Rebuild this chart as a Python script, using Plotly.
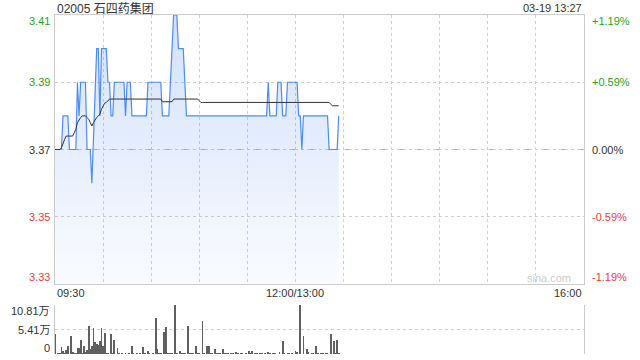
import plotly.graph_objects as go

# ---------------- data ----------------
stock_title = "02005 石四药集团"
stamp_text = "03-19 13:27"
prev_close = 3.37

# minute index from 09:30 (0) ; 12:00/13:00 = 150 ; 16:00 = 330
price = [
    3.37, 3.37, 3.37, 3.37, 3.37, 3.38, 3.38, 3.38, 3.38, 3.37,
    3.37, 3.37, 3.37, 3.37, 3.39, 3.38, 3.39, 3.39, 3.39, 3.39,
    3.37, 3.37, 3.37, 3.36, None, None, 3.40, 3.40, 3.38, 3.40,
    3.40, 3.40, 3.40, 3.39, 3.39, 3.38, 3.38, 3.39, 3.39, 3.39,
    3.39, 3.39, 3.39, 3.39, 3.38, 3.39, 3.39, 3.39, 3.38, 3.38,
    3.38, 3.38, 3.38, 3.38, 3.38, 3.38, 3.38, 3.38, 3.39, 3.39,
    3.39, 3.39, 3.39, 3.39, 3.39, 3.39, 3.39, 3.38, 3.38, 3.38,
    3.38, 3.38, 3.39, None, 3.41, 3.41, 3.41, 3.40, 3.40, 3.40,
    3.40, None, 3.38, 3.38, 3.38, 3.38, 3.38, 3.38, 3.38, 3.38,
    3.38, 3.38, 3.38, 3.38, 3.38, 3.38, 3.38, 3.38, 3.38, 3.38,
    3.38, 3.38, 3.38, 3.38, 3.38, 3.38, 3.38, 3.38, 3.38, 3.38,
    3.38, 3.38, 3.38, 3.38, 3.38, 3.38, 3.38, 3.38, 3.38, 3.38,
    3.38, 3.38, 3.38, 3.38, 3.38, 3.38, 3.38, 3.38, 3.38, 3.38,
    3.38, 3.38, 3.38, 3.39, 3.38, 3.38, 3.38, 3.38, 3.38, 3.39,
    3.39, 3.39, 3.38, 3.38, 3.38, 3.39, 3.39, 3.39, 3.39, 3.39,
    3.39, 3.39, 3.38, 3.38, 3.37, 3.38, 3.38, 3.38, 3.38, 3.38,
    3.38, 3.38, 3.38, 3.38, 3.38, 3.38, 3.38, 3.38, 3.38, 3.38,
    3.38, 3.37, 3.37, 3.37, 3.37, 3.37, 3.37, 3.38,
]

avg_price = [
    3.370, 3.370, 3.370, 3.370, 3.3705, 3.372, 3.373, 3.374, 3.374, 3.374,
    3.374, 3.374, 3.375, 3.376, 3.378, 3.379, 3.3795, 3.380, 3.380, 3.380,
    3.3795, 3.379, 3.378, 3.377, 3.378, 3.379, 3.3795, 3.380, 3.3805, 3.382,
    3.383, 3.3838, 3.384, 3.3845, 3.385, 3.385, 3.385, 3.385, 3.385, 3.385,
    3.385, 3.385, 3.385, 3.385, 3.385, 3.385, 3.385, 3.385, 3.385, 3.385,
    3.385, 3.385, 3.385, 3.385, 3.385, 3.385, 3.385, 3.385, 3.385, 3.385,
    3.385, 3.385, 3.385, 3.385, 3.385, 3.385, 3.385, 3.3842, 3.3842, 3.3842,
    3.3842, 3.3842, 3.3842, 3.3842, 3.385, 3.385, 3.385, 3.385, 3.385, 3.385,
    3.385, 3.385, 3.385, 3.385, 3.385, 3.385, 3.385, 3.385, 3.385, 3.385,
    3.3845, 3.384, 3.384, 3.384, 3.384, 3.384, 3.384, 3.384, 3.384, 3.384,
    3.384, 3.384, 3.384, 3.384, 3.384, 3.384, 3.384, 3.384, 3.384, 3.384,
    3.384, 3.384, 3.384, 3.384, 3.384, 3.384, 3.384, 3.384, 3.384, 3.384,
    3.384, 3.384, 3.384, 3.384, 3.384, 3.384, 3.384, 3.384, 3.384, 3.384,
    3.384, 3.384, 3.384, 3.384, 3.384, 3.384, 3.384, 3.384, 3.384, 3.384,
    3.384, 3.384, 3.384, 3.384, 3.384, 3.384, 3.384, 3.384, 3.384, 3.384,
    3.384, 3.384, 3.384, 3.384, 3.384, 3.384, 3.384, 3.384, 3.384, 3.384,
    3.384, 3.384, 3.384, 3.384, 3.384, 3.384, 3.384, 3.384, 3.384, 3.384,
    3.384, 3.384, 3.3835, 3.383, 3.383, 3.383, 3.383, 3.383,
]

# volume per minute, in 万 shares
volume = [
    4.46, 0, 0.2, 0.15, 1.53, 0.58, 0.15, 0.95, 1.83, 0,
    4.02, 0.3, 0.1, 0.15, 1.31, 1.31, 3.14, 0.2, 1.83, 0.3,
    0.95, 6.21, 1.1, 1.83, 5.7, 2.56, 2.26, 2.05, 2.92, 5.7,
    1.68, 4.67, 0.2, 0.15, 0, 4.46, 0.2, 3.14, 0, 1.31,
    0.15, 0, 0.2, 0, 0.2, 0, 0.15, 0, 1.83, 0.1,
    0, 0.15, 0, 0.2, 0, 1.53, 0.1, 0, 0.58, 0.1,
    0, 0.2, 0, 8.03, 1.1, 0.15, 0.2, 0, 4.89, 5.92,
    0.2, 0.15, 0.2, 0.15, 0, 10.81, 0.2, 0, 0.73, 0.1,
    0.2, 0.1, 0, 6.21, 0.15, 0.1, 0.2, 0, 1.83, 0.1,
    0.2, 0, 7.3, 0.15, 0, 1.83, 1.83, 0.1, 0.15, 0,
    1.17, 0.1, 0.2, 0.1, 0, 1.17, 0.1, 0.15, 0.1, 0,
    0.15, 0.1, 0, 0.51, 0.1, 0, 0.15, 0.1, 0, 0.15,
    0, 0.73, 0.1, 0.73, 0, 0.15, 0.1, 0, 0.15, 0.1,
    0, 0.15, 0, 0.51, 0.1, 0, 0.15, 0.1, 0, 0,
    0.51, 0, 2.92, 0.1, 0, 0.15, 0.1, 0, 0.15, 0,
    0.73, 0.37, 0, 10.81, 0, 4.02, 0, 1.17, 0.37, 0,
    0.15, 0.1, 0, 1.83, 0.1, 0, 0.15, 0.1, 0, 0.15,
    0.1, 0, 4.46, 0, 2.92, 0.15, 3.14, 0.2,
]

minutes = list(range(len(price)))

price_ticks = [3.41, 3.39, 3.37, 3.35, 3.33]
price_tick_text = ["3.41", "3.39", "3.37", "3.35", "3.33"]
pct_tick_text = ["+1.19%", "+0.59%", "0.00%", "-0.59%", "-1.19%"]
vol_ticks = [10.81, 5.405, 0]
vol_tick_text = ["10.81万", "5.41万", "0"]
time_ticks = [0, 150, 330]
time_tick_text = ["09:30", "12:00/13:00", "16:00"]
grid_minutes = list(range(0, 331, 30))

# ---------------- styling ----------------
FONT = "Liberation Sans, Arial, Noto Sans CJK SC, sans-serif"
GREEN = "#22a722"
RED = "#f03c3c"
DARK = "#333333"
GRID = "#cfcfcf"
BORDER = "#cccccc"


def tick_color(v):
    if v > prev_close + 1e-9:
        return GREEN
    if v < prev_close - 1e-9:
        return RED
    return DARK


fig = go.Figure()

fig.add_trace(go.Scatter(
    x=minutes, y=price, mode="lines", connectgaps=True,
    line=dict(color="#4a8ef0", width=1.2),
    fill="tozeroy",
    fillgradient=dict(type="vertical", start=3.33, stop=3.41,
                      colorscale=[[0, "rgba(70,130,235,0.03)"],
                                  [1, "rgba(70,130,235,0.24)"]]),
    xaxis="x", yaxis="y", hoverinfo="skip", showlegend=False,
))
fig.add_trace(go.Scatter(
    x=minutes, y=avg_price, mode="lines",
    line=dict(color="#333333", width=1),
    xaxis="x", yaxis="y", hoverinfo="skip", showlegend=False,
))
fig.add_trace(go.Bar(
    x=minutes, y=volume, width=0.5,
    marker=dict(color="#606060", line=dict(width=0)),
    xaxis="x2", yaxis="y2", hoverinfo="skip", showlegend=False,
))

# geometry: plot area x 55..584, y 15..354 (px)
L, R, T, B = 55, 56, 15, 6
H = 360 - T - B
price_bottom = (354 - 284) / H
vol_top = (354 - 305) / H


def py(px):
    return (354 - px) / H


fig.update_layout(
    width=640, height=360,
    margin=dict(l=L, r=R, t=T, b=B, pad=0),
    paper_bgcolor="white", plot_bgcolor="white",
    font=dict(family=FONT, size=11, color=DARK),
    bargap=0,
    xaxis=dict(range=[0, 330], domain=[0, 1], anchor="y",
               tickvals=grid_minutes, showticklabels=False, ticks="",
               showgrid=True, gridcolor=GRID, griddash="dot", gridwidth=1,
               showline=True, linecolor=BORDER, linewidth=1, mirror=True,
               zeroline=False, fixedrange=True),
    yaxis=dict(range=[3.33, 3.41], domain=[price_bottom, 1], anchor="x",
               tickvals=price_ticks, showticklabels=False, ticks="",
               showgrid=True, gridcolor=GRID, griddash="dot", gridwidth=1,
               showline=True, linecolor=BORDER, linewidth=1, mirror=True,
               zeroline=False, fixedrange=True),
    xaxis2=dict(range=[0, 330], domain=[0, 1], anchor="y2",
                showticklabels=False, ticks="", showgrid=False,
                showline=False, zeroline=False, fixedrange=True),
    yaxis2=dict(range=[0, 10.81], domain=[0, vol_top], anchor="x2",
                tickvals=vol_ticks, showticklabels=False, ticks="",
                showgrid=True, gridcolor=GRID, griddash="dot", gridwidth=1,
                showline=True, linecolor=BORDER, linewidth=1, mirror=True,
                zeroline=False, fixedrange=True),
)

# previous close dashed line
fig.add_shape(type="line", xref="x domain", yref="y", x0=0, x1=1,
              y0=prev_close, y1=prev_close,
              line=dict(color="#b0b0b0", width=1, dash="dash"), layer="below")

ann = []
# title and timestamp
ann.append(dict(text=stock_title, xref="paper", yref="paper", x=0, y=py(8),
                xanchor="left", yanchor="middle", showarrow=False,
                font=dict(size=12, color=DARK)))
ann.append(dict(text=stamp_text, xref="paper", yref="paper", x=1, y=py(8),
                xanchor="right", yanchor="middle", showarrow=False,
                font=dict(size=11, color=DARK)))

# price axis labels (left) and percent labels (right)
n = len(price_ticks)
for i, (v, t, pt) in enumerate(zip(price_ticks, price_tick_text, pct_tick_text)):
    shift = -6 if i == 0 else (7 if i == n - 1 else 0)
    c = tick_color(v)
    ann.append(dict(text=t, xref="paper", yref="y", x=0, y=v, xshift=-3,
                    yshift=shift, xanchor="right", yanchor="middle",
                    showarrow=False, font=dict(size=11, color=c)))
    ann.append(dict(text=pt, xref="paper", yref="y", x=1, y=v, xshift=6,
                    yshift=shift, xanchor="left", yanchor="middle",
                    showarrow=False, font=dict(size=11, color=c)))

# volume labels
for i, (v, t) in enumerate(zip(vol_ticks, vol_tick_text)):
    shift = -6 if i == 0 else (6 if i == len(vol_ticks) - 1 else 0)
    ann.append(dict(text=t, xref="paper", yref="y2", x=0, y=v, xshift=-3,
                    yshift=shift, xanchor="right", yanchor="middle",
                    showarrow=False, font=dict(size=11, color=DARK)))

# time labels
anchors = ["left", "center", "right"]
for v, t, a in zip(time_ticks, time_tick_text, anchors):
    ann.append(dict(text=t, xref="x", yref="paper", x=v, y=py(293),
                    xanchor=a, yanchor="middle", showarrow=False,
                    font=dict(size=11, color=DARK)))

# watermark
ann.append(dict(text="sina.com", xref="paper", yref="paper",
                x=(573 - 55) / 529, y=py(278), xanchor="right",
                yanchor="middle", showarrow=False,
                font=dict(size=11, color="#cccccc")))

fig.update_layout(annotations=ann)

fig.write_html("out.html", config={"displayModeBar": False})
